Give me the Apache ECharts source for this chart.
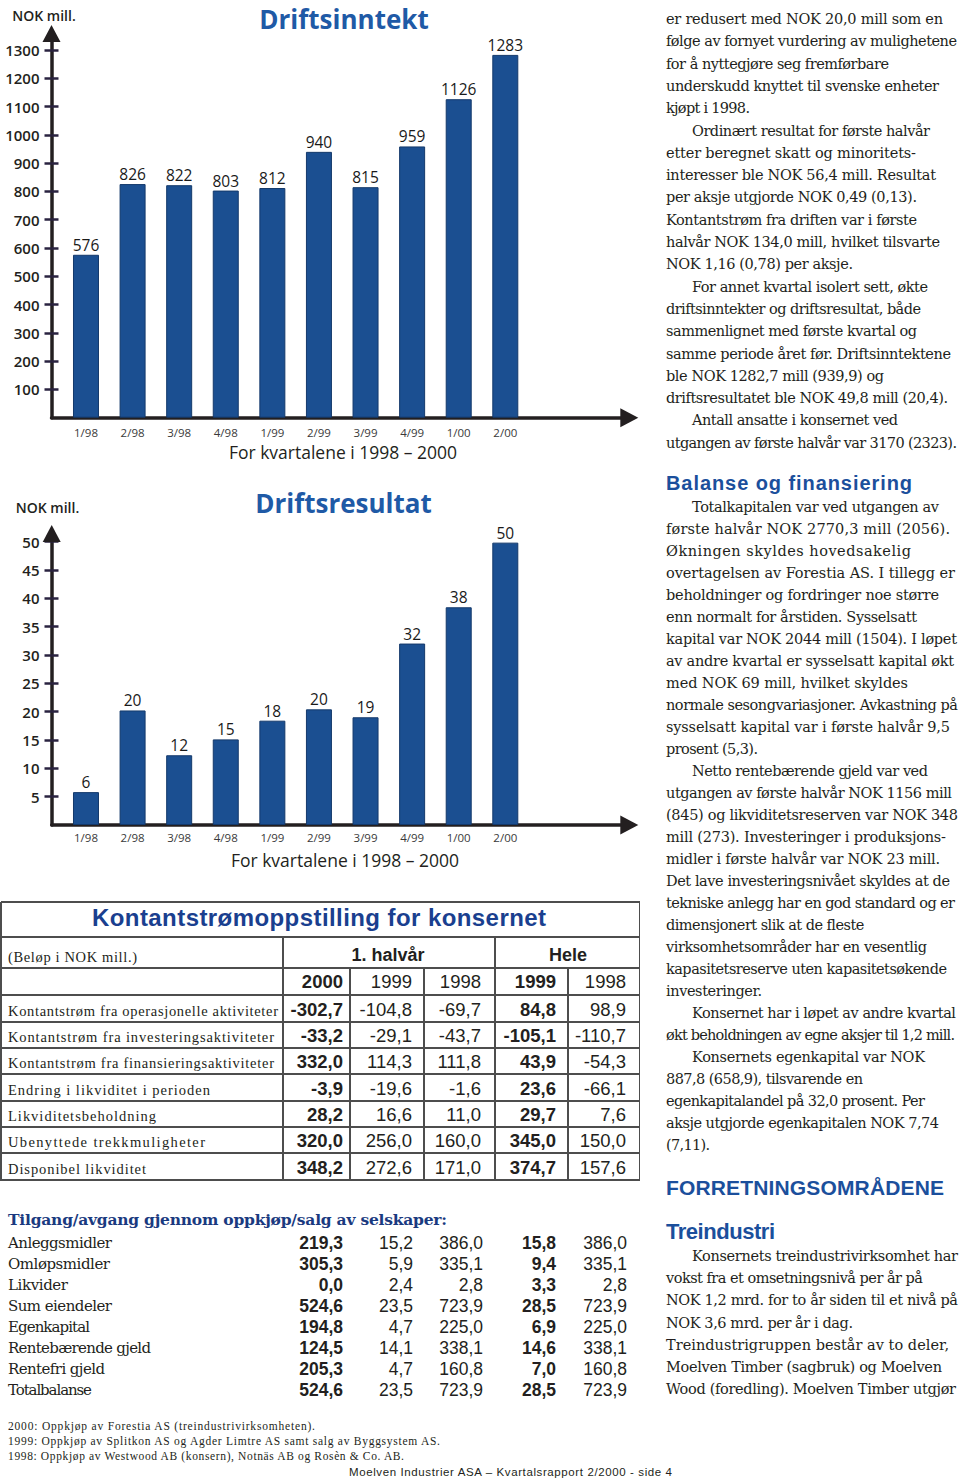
<!DOCTYPE html>
<html><head><meta charset="utf-8">
<script src="https://cdn.jsdelivr.net/npm/echarts@6/dist/echarts.min.js"></script>
<style>
html,body{margin:0;padding:0;background:#fff;}
#page{position:relative;width:960px;height:1480px;overflow:hidden;background:#fff;color:#231f20;}
#chart{position:absolute;left:0;top:0;width:650px;height:880px;}
.t{position:absolute;white-space:nowrap;line-height:20px;height:20px;}
.hl{position:absolute;background:#4d4d4d;height:1.6px;}
.vl{position:absolute;background:#4d4d4d;width:1.6px;}
</style></head><body><div id="page"><div id="chart"></div></div>
<script>
// ---------- chart data ----------
const quarters = ['1/98','2/98','3/98','4/98','1/99','2/99','3/99','4/99','1/00','2/00'];
const driftsinntekt = [576, 826, 822, 803, 812, 939.9, 815, 959, 1126, 1282.7];
const driftsresultat = [5.8, 20.2, 12.3, 15.1, 18.4, 20.4, 19.0, 32.0, 38.4, 49.8];
const inntektTicks = [100,200,300,400,500,600,700,800,900,1000,1100,1200,1300];
const resultatTicks = [5,10,15,20,25,30,35,40,45,50];

// ---------- table data ----------
const cfLabels = ['Kontantstrøm fra operasjonelle aktiviteter','Kontantstrøm fra investeringsaktiviteter','Kontantstrøm fra finansieringsaktiviteter','Endring i likviditet i perioden','Likviditetsbeholdning','Ubenyttede trekkmuligheter','Disponibel likviditet'];
const cfYears = ['2000','1999','1998','1999','1998'];
const cf2000h = ['-302,7','-33,2','332,0','-3,9','28,2','320,0','348,2'];
const cf1999h = ['-104,8','-29,1','114,3','-19,6','16,6','256,0','272,6'];
const cf1998h = ['-69,7','-43,7','111,8','-1,6','11,0','160,0','171,0'];
const cf1999 = ['84,8','-105,1','43,9','23,6','29,7','345,0','374,7'];
const cf1998 = ['98,9','-110,7','-54,3','-66,1','7,6','150,0','157,6'];

const acqLabels = ['Anleggsmidler','Omløpsmidler','Likvider','Sum eiendeler','Egenkapital','Rentebærende gjeld','Rentefri gjeld','Totalbalanse'];
const acq2000h = ['219,3','305,3','0,0','524,6','194,8','124,5','205,3','524,6'];
const acq1999h = ['15,2','5,9','2,4','23,5','4,7','14,1','4,7','23,5'];
const acq1998h = ['386,0','335,1','2,8','723,9','225,0','338,1','160,8','723,9'];
const acq1999 = ['15,8','9,4','3,3','28,5','6,9','14,6','7,0','28,5'];
const acq1998 = ['386,0','335,1','2,8','723,9','225,0','338,1','160,8','723,9'];

// ---------- charts ----------
const axisColor = '#231f20';
function frameAxis(size){
  return {type:'value', min:0, max:1, axisLine:{show:true, symbol:['none','triangle'], symbolSize:size, lineStyle:{color:axisColor, width:3.5}}, axisTick:{show:false}, axisLabel:{show:false}, splitLine:{show:false}};
}
function valAxis(g, max, interval, ticks, inside){
  return {gridIndex:g, type:'value', min:0, max:max, interval:interval, offset:11.2, position:'left',
    axisLine:{show:false},
    axisTick:{show:true, inside:inside, length:7, customValues:ticks, lineStyle:{color:'#2a2340', width:2.5}},
    axisLabel:inside ? {show:false} : {show:true, customValues:ticks, margin:12, fontSize:15, fontWeight:600, fontFamily:'Open Sans', color:'#231f20', formatter:v=>String(v)},
    splitLine:{show:false}};
}
function catAxis(g, margin){
  return {gridIndex:g, type:'category', data:quarters, axisLine:{show:false}, axisTick:{show:false},
    axisLabel:{margin:margin, fontSize:11.5, fontFamily:'Open Sans', color:'#3a3a3a'}};
}
function barSeries(x, y, data){
  return {type:'bar', xAxisIndex:x, yAxisIndex:y, data:data, barWidth:26,
    itemStyle:{color:'#1b4f91', borderColor:'#14396b', borderWidth:1},
    label:{show:true, position:'top', distance:2, fontSize:15.5, fontFamily:'Open Sans', color:'#1a1a1a', formatter:p=>String(Math.round(p.value))},
    silent:true};
}
function txt(x, y, s, font, fill){
  return {type:'text', x:x, y:y, style:{text:s, font:font, fill:fill||'#231f20', textAlign:'center', textVerticalAlign:'middle'}};
}
const chart = echarts.init(document.getElementById('chart'), null, {renderer:'svg'});
chart.setOption({
  animation:false,
  grid:[
    {left:51.5, top:33.5, width:577.8, height:384.2},
    {left:62.7, top:50, width:465.9, height:367.7},
    {left:51.7, top:533.5, width:577.6, height:291.5},
    {left:62.7, top:541.5, width:465.9, height:283.5}
  ],
  xAxis:[
    Object.assign({gridIndex:0}, frameAxis([19,18])),
    catAxis(1, 9),
    Object.assign({gridIndex:2}, frameAxis([19,18])),
    catAxis(3, 6)
  ],
  yAxis:[
    Object.assign({gridIndex:0}, frameAxis([18,17])),
    valAxis(1, 1300, 100, inntektTicks, false),
    valAxis(1, 1300, 100, inntektTicks, true),
    Object.assign({gridIndex:2}, frameAxis([18,17])),
    valAxis(3, 50, 5, resultatTicks, false),
    valAxis(3, 50, 5, resultatTicks, true)
  ],
  series:[
    barSeries(1, 1, driftsinntekt),
    barSeries(3, 4, driftsresultat)
  ],
  graphic:[
    txt(44, 15, 'NOK mill.', '600 14px "Open Sans"'),
    txt(344, 19, 'Driftsinntekt', 'bold 26px "Open Sans"', '#1f5aa6'),
    txt(343, 452, 'For kvartalene i 1998 – 2000', '500 17.5px "Open Sans"'),
    txt(47.5, 507, 'NOK mill.', '600 14px "Open Sans"'),
    txt(343.5, 503, 'Driftsresultat', 'bold 26px "Open Sans"', '#1f5aa6'),
    txt(345, 860, 'For kvartalene i 1998 – 2000', '500 17.5px "Open Sans"')
  ]
});

// ---------- text helpers ----------
const page = document.getElementById('page');
function addText(s, opt){
  const d = document.createElement('div');
  d.className = 't';
  d.textContent = s;
  d.style.fontFamily = opt.family;
  d.style.fontSize = opt.size + 'px';
  d.style.fontWeight = opt.weight || 'normal';
  d.style.color = opt.color || '#231f20';
  d.style.top = (opt.y - 10) + 'px';
  d.style.left = '0px';
  page.appendChild(d);
  let w = d.getBoundingClientRect().width;
  if (opt.fit) {
    const n = Math.max(1, s.length - 1);
    const ls = (opt.fit - w) / n;
    d.style.letterSpacing = ls + 'px';
    w = opt.fit;
  }
  if (opt.align === 'right') d.style.left = (opt.x - w) + 'px';
  else if (opt.align === 'center') d.style.left = (opt.x - w / 2) + 'px';
  else d.style.left = opt.x + 'px';
  return d;
}
function hline(x, y, w){ const e=document.createElement('div'); e.className='hl'; e.style.left=x+'px'; e.style.top=(y-0.8)+'px'; e.style.width=w+'px'; page.appendChild(e); }
function vline(x, y, h){ const e=document.createElement('div'); e.className='vl'; e.style.left=(x-0.8)+'px'; e.style.top=y+'px'; e.style.height=h+'px'; page.appendChild(e); }

// ---------- cash-flow table ----------
const rowLines = [902, 937, 968, 995, 1022, 1048, 1074, 1101, 1127, 1153, 1180];
rowLines.forEach(y => hline(0.5, y, 639.5));
vline(1, 902, 278.8); vline(639.5, 902, 278.8);
vline(283, 937, 243.8); vline(495, 937, 243.8);
vline(350, 968, 212.8); vline(424, 968, 212.8); vline(568, 968, 212.8);

addText('Kontantstrømoppstilling for konsernet', {x:92, y:918, family:'"Liberation Sans"', size:24, weight:'bold', color:'#1a3f8f', fit:454});
addText('(Beløp i NOK mill.)', {x:8, y:957, family:'"Liberation Serif"', size:14.5, fit:129});
addText('1. halvår', {x:388, y:955, family:'"Liberation Sans"', size:18, weight:'bold', align:'center'});
addText('Hele', {x:568, y:955, family:'"Liberation Sans"', size:18, weight:'bold', align:'center'});

const colRight = [343, 412, 481, 556, 626];
const colBold = [true, false, false, true, false];
cfYears.forEach((s,i) => addText(s, {x:colRight[i], y:982, family:'"Liberation Sans"', size:18.5, weight:colBold[i]?'bold':'normal', align:'right'}));
const cfCols = [cf2000h, cf1999h, cf1998h, cf1999, cf1998];
const cfLabelW = [270, 266, 266, 202, 148, 197, 138];
cfLabels.forEach((lab, r) => {
  const yc = (rowLines[r+3] + rowLines[r+4]) / 2 + 1;
  addText(lab, {x:8, y:yc+1, family:'"Liberation Serif"', size:14.5, fit:cfLabelW[r]});
  cfCols.forEach((col, c) => addText(col[r], {x:colRight[c], y:yc, family:'"Liberation Sans"', size:18.5, weight:colBold[c]?'bold':'normal', align:'right'}));
});

// ---------- acquisitions table ----------
addText('Tilgang/avgang gjennom oppkjøp/salg av selskaper:', {x:8, y:1220, family:'"DejaVu Serif"', size:15.5, weight:'bold', color:'#1a3a80', fit:439});
const acqLabelW = [104, 102, 60, 104, 82, 143, 97, 84];
const acqRight = [343, 413, 483, 556, 627];
const acqCols = [acq2000h, acq1999h, acq1998h, acq1999, acq1998];
acqLabels.forEach((lab, r) => {
  const yc = 1243 + r * 21;
  addText(lab, {x:8, y:yc, family:'"DejaVu Serif"', size:15, fit:acqLabelW[r]});
  acqCols.forEach((col, c) => addText(col[r], {x:acqRight[c], y:yc, family:'"Liberation Sans"', size:17.5, weight:colBold[c]?'bold':'normal', align:'right'}));
});

addText('2000: Oppkjøp av Forestia AS (treindustrivirksomheten).', {x:8, y:1426, family:'"Liberation Serif"', size:11.5, fit:307});
addText('1999: Oppkjøp av Splitkon AS og Agder Limtre AS samt salg av Byggsystem AS.', {x:8, y:1441, family:'"Liberation Serif"', size:11.5, fit:432});
addText('1998: Oppkjøp av Westwood AB (konsern), Notnäs AB og Rosèn & Co. AB.', {x:8, y:1456, family:'"Liberation Serif"', size:11.5, fit:396});
addText('Moelven Industrier ASA – Kvartalsrapport 2/2000 - side 4', {x:349, y:1472, family:'"Liberation Sans"', size:11.5, fit:323});

// ---------- right column ----------
const sec1 = [
 ['er redusert med NOK 20,0 mill som en',0,943],
 ['følge av fornyet vurdering av mulighetene',0,957],
 ['for å nyttegjøre seg fremførbare',0,889],
 ['underskudd knyttet til svenske enheter',0,939],
 ['kjøpt i 1998.',0,750],
 ['Ordinært resultat for første halvår',1,930],
 ['etter beregnet skatt og minoritets-',0,916],
 ['interesser ble NOK 56,4 mill. Resultat',0,936],
 ['per aksje utgjorde NOK 0,49 (0,13).',0,917],
 ['Kontantstrøm fra driften var i første',0,917],
 ['halvår NOK 134,0 mill, hvilket tilsvarte',0,940],
 ['NOK 1,16 (0,78) per aksje.',0,853],
 ['For annet kvartal isolert sett, økte',1,928],
 ['driftsinntekter og driftsresultat, både',0,921],
 ['sammenlignet med første kvartal og',0,917],
 ['samme periode året før. Driftsinntektene',0,951],
 ['ble NOK 1282,7 mill (939,9) og',0,884],
 ['driftsresultatet ble NOK 49,8 mill (20,4).',0,948],
 ['Antall ansatte i konsernet ved',1,898],
 ['utgangen av første halvår var 3170 (2323).',0,957]
];
const sec2 = [
 ['Totalkapitalen var ved utgangen av',1,939],
 ['første halvår NOK 2770,3 mill (2056).',0,950],
 ['Økningen skyldes hovedsakelig',0,911],
 ['overtagelsen av Forestia AS. I tillegg er',0,955],
 ['beholdninger og fordringer noe større',0,939],
 ['enn normalt for årstiden. Sysselsatt',0,917],
 ['kapital var NOK 2044 mill (1504). I løpet',0,957],
 ['av andre kvartal er sysselsatt kapital økt',0,954],
 ['med NOK 69 mill, hvilket skyldes',0,908],
 ['normale sesongvariasjoner. Avkastning på',0,958],
 ['sysselsatt kapital var i første halvår 9,5',0,950],
 ['prosent (5,3).',0,758],
 ['Netto rentebærende gjeld var ved',1,928],
 ['utgangen av første halvår NOK 1156 mill',0,952],
 ['(845) og likviditetsreserven var NOK 348',0,958],
 ['mill (273). Investeringer i produksjons-',0,946],
 ['midler i første halvår var NOK 23 mill.',0,940],
 ['Det lave investeringsnivået skyldes at de',0,950],
 ['tekniske anlegg har en god standard og er',0,955],
 ['dimensjonert slik at de fleste',0,864],
 ['virksomhetsområder har en vesentlig',0,927],
 ['kapasitetsreserve uten kapasitetsøkende',0,947],
 ['investeringer.',0,762],
 ['Konsernet har i løpet av andre kvartal',1,956],
 ['økt beholdningen av egne aksjer til 1,2 mill.',0,955],
 ['Konsernets egenkapital var NOK',1,925],
 ['887,8 (658,9), tilsvarende en',0,863],
 ['egenkapitalandel på 32,0 prosent. Per',0,925],
 ['aksje utgjorde egenkapitalen NOK 7,74',0,939],
 ['(7,11).',0,710]
];
const sec3 = [
 ['Konsernets treindustrivirksomhet har',1,958],
 ['vokst fra et omsetningsnivå per år på',0,923],
 ['NOK 1,2 mrd. for to år siden til et nivå på',0,958],
 ['NOK 3,6 mrd. per år i dag.',0,853],
 ['Treindustrigruppen består av to deler,',0,949],
 ['Moelven Timber (sagbruk) og Moelven',0,942],
 ['Wood (foredling). Moelven Timber utgjør',0,956]
];
function section(lines, y0, lh){
  lines.forEach((l, i) => {
    const x = l[1] ? 692 : 666;
    addText(l[0], {x:x, y:y0 + i * lh, family:'"DejaVu Serif"', size:14.5, fit:l[2] - x});
  });
}
section(sec1, 19, 22.3);
addText('Balanse og finansiering', {x:666, y:483, family:'"Liberation Sans"', size:20, weight:'bold', color:'#1b4f9c', fit:246});
section(sec2, 507, 22.0);
addText('FORRETNINGSOMRÅDENE', {x:666, y:1188, family:'"Liberation Sans"', size:21, weight:'bold', color:'#1b4f9c', fit:278});
addText('Treindustri', {x:666, y:1232, family:'"Liberation Sans"', size:22, weight:'bold', color:'#1b4f9c', fit:109});
section(sec3, 1256, 22.17);
</script></body></html>
